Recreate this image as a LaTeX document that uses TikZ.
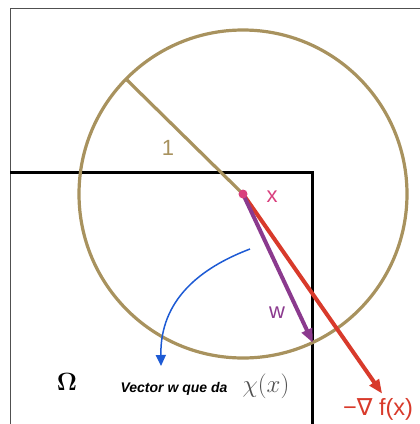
\documentclass[tikz,border=0pt]{standalone}
\usepackage{fontspec}
\usepackage{amsmath}
\usetikzlibrary{arrows.meta}
\setsansfont{Liberation Sans}
\newfontfamily\symfont{DejaVu Sans}
\definecolor{ballgold}{HTML}{A8925E}
\definecolor{ptpink}{HTML}{D9407E}
\definecolor{wpurple}{HTML}{8B3A8E}
\definecolor{gradred}{HTML}{D83A2B}
\definecolor{curveblue}{HTML}{1D5AD4}
\definecolor{chigray}{HTML}{505050}

\begin{document}
\begin{tikzpicture}[x=1pt,y=-1pt,
  lbl/.style={font=\sffamily\fontsize{22}{24}\selectfont, inner sep=0pt},
  vec/.style={line width=4pt, -{Triangle[length=14pt,width=11pt]}, shorten >=-2pt}]
  \useasboundingbox (0,0) rectangle (420,424);
  % frame and the set Omega
  \draw[chigray,line width=1pt] (10,424) -- (10,8) -- (420,8);
  \draw[black,line width=3pt] (10,172) -- (312,172) -- (312,424);
  % unit ball round x
  \coordinate (x) at (243,194);
  \coordinate (rim) at (127,80);
  \draw[ballgold,line width=3.2pt] (x) circle[radius=164];
  \draw[ballgold,line width=3.2pt] (x) -- (rim);
  \node[lbl,text=ballgold] (one) at (168,148) {1};
  % directions
  \coordinate (wend) at (312,341);
  \coordinate (gend) at (381,392);
  \draw[vec,gradred] (x) -- (gend);
  \draw[vec,wpurple] (x) -- (wend);
  \fill[ptpink] (x) circle[radius=4.5];
  \node[lbl,text=ptpink] (xlab) at (272,197) {x};
  \node[lbl,text=wpurple] (wlab) at (277,313) {w};
  \node[lbl,text=gradred,font=\sffamily\fontsize{23.5}{26}\selectfont] (glab) at (378,409) {−{\symfont∇} f(x)};
  % annotation
  \coordinate (cstart) at (250,249);
  \coordinate (ctip) at (161,366);
  \draw[curveblue,line width=1.5pt,-{Triangle[length=11pt,width=10pt]}]
    (cstart) .. controls (200,268) and (160,300) .. (ctip);
  \node[inner sep=0pt] (omega) at (67,382) {\fontsize{24}{26}\selectfont$\boldsymbol{\Omega}$};
  \node[inner sep=0pt] (vtext) at (174,389)
    {\sffamily\bfseries\itshape\fontsize{14}{16}\selectfont Vector w que da};
  \node[inner sep=0pt,text=chigray] (chi) at (266,386) {\fontsize{28}{30}\selectfont$\chi(x)$};
\end{tikzpicture}
\end{document}
